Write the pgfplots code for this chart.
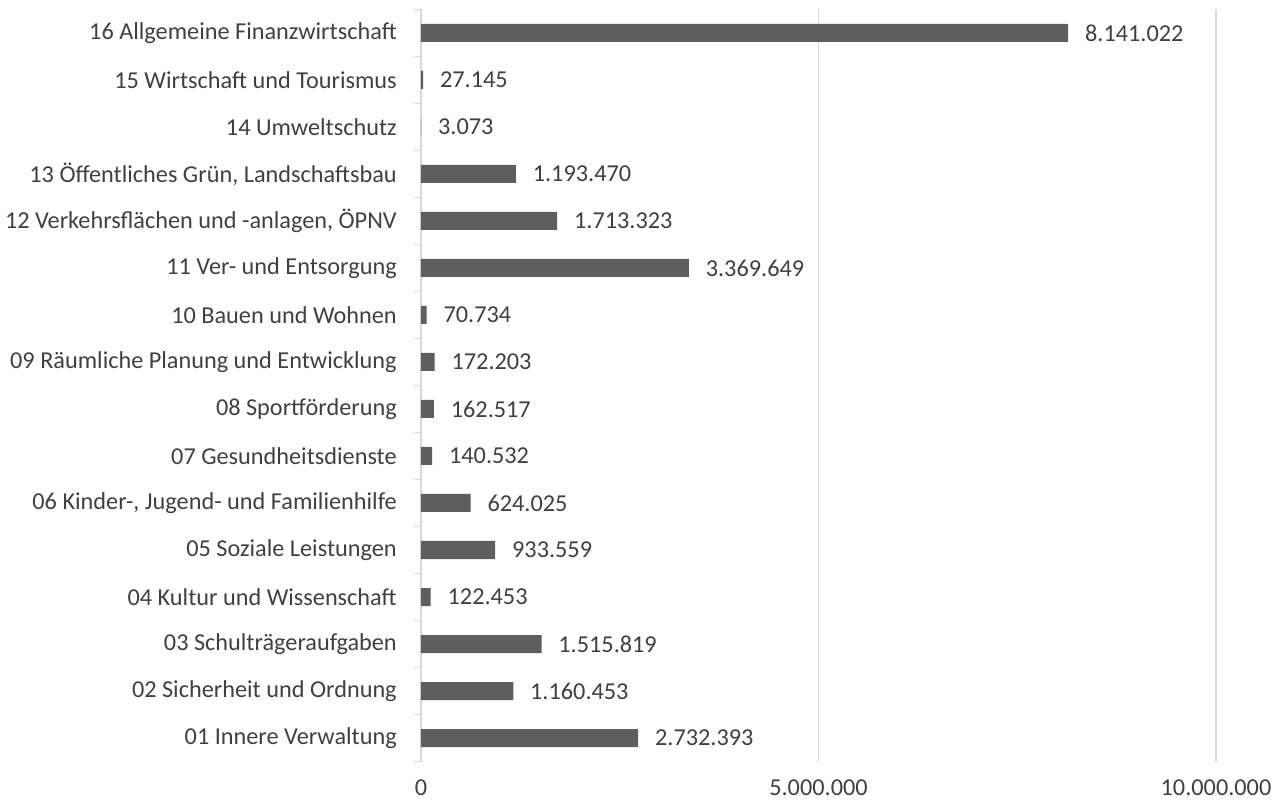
\documentclass[border=0pt]{standalone}
\usepackage{fontspec}
\setmainfont{Carlito}
\usepackage{pgfplots}
\pgfplotsset{compat=1.18}
\definecolor{bargray}{HTML}{5E5E5E}
\definecolor{axisgray}{HTML}{D9D9D9}
\definecolor{textgray}{HTML}{404040}
\begin{document}
\begin{tikzpicture}
\begin{axis}[
  scale only axis,
  width=596.25pt, height=564pt,
  xmin=0, xmax=10000000,
  ymin=-0.5, ymax=15.5,
  xbar, bar width=13.5pt,
  clip=false,
  axis y line*=left, axis x line*=bottom,
  x axis line style={draw=none},
  y axis line style={draw=axisgray, line width=1.1pt},
  xmajorgrids, grid style={draw=axisgray, line width=1.1pt},
  scaled x ticks=false,
  xtick={0,5000000,10000000},
  xticklabels={0,5.000.000,10.000.000},
  ytick={0,...,15},
  yticklabels={01 Innere Verwaltung,02 Sicherheit und Ordnung,03 Schulträgeraufgaben,04 Kultur und Wissenschaft,05 Soziale Leistungen,{06 Kinder-, Jugend- und Familienhilfe},07 Gesundheitsdienste,08 Sportförderung,09 Räumliche Planung und Entwicklung,10 Bauen und Wohnen,11 Ver- und Entsorgung,{12 Verkehrsflächen und -anlagen, ÖPNV},{13 Öffentliches Grün, Landschaftsbau},14 Umweltschutz,15 Wirtschaft und Tourismus,16 Allgemeine Finanzwirtschaft},
  major tick length=0pt,
  tick align=outside,
  extra y ticks={-0.5,0.5,1.5,2.5,3.5,4.5,5.5,6.5,7.5,8.5,9.5,10.5,11.5,12.5,13.5,14.5,15.5},
  extra y tick labels={},
  extra y tick style={major tick length=5.25pt, tick style={draw=axisgray, line width=1.1pt}},
  tick label style={font=\fontsize{18.2}{22}\selectfont, text=textgray},
  yticklabel style={inner sep=0pt, xshift=-18pt},
  xticklabel style={anchor=north, inner sep=0pt, yshift=-13.5pt},
  point meta=explicit symbolic,
  nodes near coords,
  every node near coord/.append style={font=\fontsize{18.2}{22}\selectfont, text=textgray, anchor=west, inner sep=0pt, xshift=12.5pt},
]
\addplot[fill=bargray, draw=none] coordinates {
  (2732393,0) [2.732.393]
  (1160453,1) [1.160.453]
  (1515819,2) [1.515.819]
  (122453,3) [122.453]
  (933559,4) [933.559]
  (624025,5) [624.025]
  (140532,6) [140.532]
  (162517,7) [162.517]
  (172203,8) [172.203]
  (70734,9) [70.734]
  (3369649,10) [3.369.649]
  (1713323,11) [1.713.323]
  (1193470,12) [1.193.470]
  (3073,13) [3.073]
  (27145,14) [27.145]
  (8141022,15) [8.141.022]
};
\end{axis}
\pgfresetboundingbox
\path ([shift={(-315.75pt,-28.875pt)}]current axis.south west) rectangle ([shift={(49.5pt,7.125pt)}]current axis.north east);
\end{tikzpicture}
\end{document}
